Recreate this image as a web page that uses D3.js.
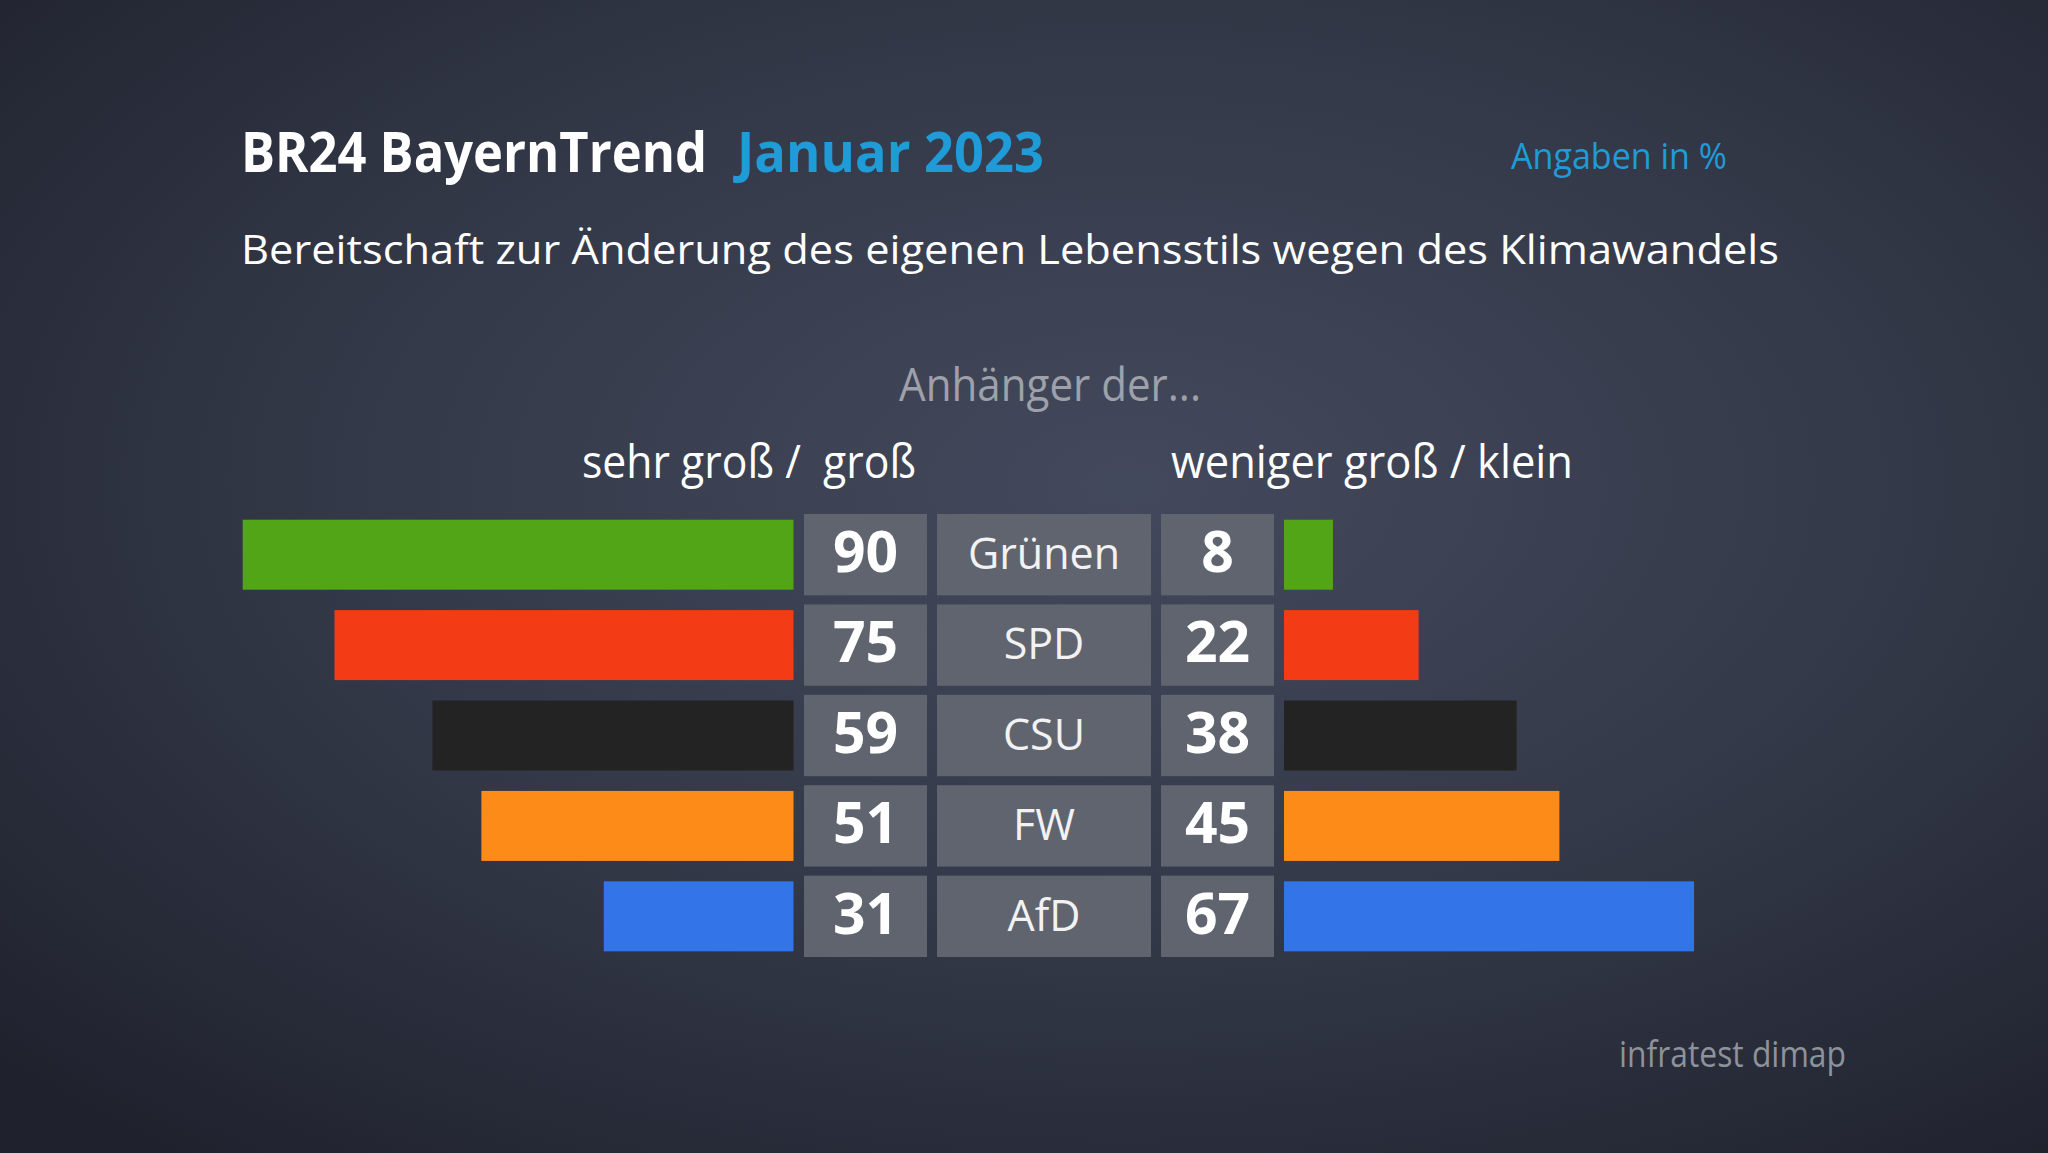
<!DOCTYPE html>
<html>
<head>
<meta charset="utf-8">
<script src="https://cdn.jsdelivr.net/npm/d3@7"></script>
<style>
  html, body { margin: 0; padding: 0; background: #262a37; }
  svg { display: block; }
  text { font-family: 'Open Sans', 'Noto Sans', sans-serif; white-space: pre; }
</style>
</head>
<body>
<svg id="chart"></svg>
<script>
const parties = ['Grünen', 'SPD', 'CSU', 'FW', 'AfD'];
const grossValues = [90, 75, 59, 51, 31];
const kleinValues = [8, 22, 38, 45, 67];
const partyColors = ['#52a516', '#f33c15', '#232323', '#fd8b17', '#3375e8'];
const headers = ['sehr groß /  groß', 'weniger groß / klein'];

const width = 2048, height = 1153;

const svg = d3.select('#chart')
    .attr('width', width)
    .attr('height', height);

// background glow
const defs = svg.append('defs');
const bg = defs.append('radialGradient')
    .attr('id', 'bg')
    .attr('cx', 0.55).attr('cy', 0.42).attr('r', 0.75);
bg.append('stop').attr('offset', 0).attr('stop-color', '#43495c');
bg.append('stop').attr('offset', 0.5).attr('stop-color', '#343949');
bg.append('stop').attr('offset', 1).attr('stop-color', '#1f222d');

svg.append('rect')
    .attr('width', width).attr('height', height)
    .attr('fill', 'url(#bg)');

// squeeze text to the width it has in the original (narrower face)
const fit = (sel, w) => sel.attr('textLength', w).attr('lengthAdjust', 'spacingAndGlyphs');

// header
svg.append('text')
    .attr('x', 241).attr('y', 172)
    .attr('font-size', 55).attr('font-weight', 700)
    .attr('fill', '#ffffff')
    .text('BR24 BayernTrend')
    .call(fit, 466);

svg.append('text')
    .attr('x', 737).attr('y', 172)
    .attr('font-size', 55).attr('font-weight', 700)
    .attr('fill', '#1f9bd7')
    .text('Januar 2023')
    .call(fit, 307);

svg.append('text')
    .attr('x', 1511).attr('y', 169)
    .attr('font-size', 36)
    .attr('fill', '#1f9bd7')
    .text('Angaben in %')
    .call(fit, 216);

svg.append('text')
    .attr('x', 241).attr('y', 264)
    .attr('font-size', 40)
    .attr('fill', '#ffffff')
    .text('Bereitschaft zur Änderung des eigenen Lebensstils wegen des Klimawandels')
    .call(fit, 1538);

svg.append('text')
    .attr('x', 899).attr('y', 401)
    .attr('font-size', 45)
    .attr('fill', '#9ea1a9')
    .text('Anhänger der...')
    .call(fit, 302);

svg.append('text')
    .attr('x', 582).attr('y', 478)
    .attr('font-size', 45)
    .attr('fill', '#ffffff')
    .text(headers[0])
    .call(fit, 334);

svg.append('text')
    .attr('x', 1171).attr('y', 478)
    .attr('font-size', 45)
    .attr('fill', '#ffffff')
    .text(headers[1])
    .call(fit, 402);

// scales
const xs = d3.scaleLinear().domain([0, 100]).range([0, 612]);
const ys = d3.scaleBand().domain(parties).range([514, 957]).paddingInner(0.1);

const leftEdge = 793.5;
const rightStart = 1284;
const boxes = [
    { x: 804, w: 123 },   // sehr groß / groß
    { x: 937, w: 214 },   // party
    { x: 1161, w: 113 }   // weniger groß / klein
];
const barInset = 5.7, barH = 70;

const rows = parties.map((p, i) => ({
    party: p, gross: grossValues[i], klein: kleinValues[i], color: partyColors[i]
}));

const g = svg.append('g');

g.selectAll('.bar-left')
    .data(rows).enter()
    .append('rect')
    .attr('class', 'bar-left')
    .attr('x', (d) => leftEdge - xs(d.gross))
    .attr('y', (d) => ys(d.party) + barInset)
    .attr('width', (d) => xs(d.gross))
    .attr('height', barH)
    .attr('fill', (d) => d.color);

g.selectAll('.bar-right')
    .data(rows).enter()
    .append('rect')
    .attr('class', 'bar-right')
    .attr('x', rightStart)
    .attr('y', (d) => ys(d.party) + barInset)
    .attr('width', (d) => xs(d.klein))
    .attr('height', barH)
    .attr('fill', (d) => d.color);

boxes.forEach((b) => {
    g.selectAll(null)
        .data(rows).enter()
        .append('rect')
        .attr('x', b.x)
        .attr('y', (d) => ys(d.party))
        .attr('width', b.w)
        .attr('height', ys.bandwidth())
        .attr('fill', '#60646f');
});

g.selectAll('.num-left')
    .data(rows).enter()
    .append('text')
    .attr('class', 'num-left')
    .attr('x', boxes[0].x + boxes[0].w / 2)
    .attr('y', (d) => ys(d.party) + 58)
    .attr('text-anchor', 'middle')
    .attr('font-size', 57).attr('font-weight', 700)
    .attr('fill', '#ffffff')
    .text((d) => d.gross);

g.selectAll('.num-right')
    .data(rows).enter()
    .append('text')
    .attr('class', 'num-right')
    .attr('x', boxes[2].x + boxes[2].w / 2)
    .attr('y', (d) => ys(d.party) + 58)
    .attr('text-anchor', 'middle')
    .attr('font-size', 57).attr('font-weight', 700)
    .attr('fill', '#ffffff')
    .text((d) => d.klein);

g.selectAll('.party')
    .data(rows).enter()
    .append('text')
    .attr('class', 'party')
    .attr('x', boxes[1].x + boxes[1].w / 2)
    .attr('y', (d) => ys(d.party) + 55)
    .attr('text-anchor', 'middle')
    .attr('font-size', 43)
    .attr('fill', '#f2f2f2')
    .text((d) => d.party);

// source
svg.append('text')
    .attr('x', 1619).attr('y', 1067)
    .attr('font-size', 36)
    .attr('fill', '#8e929b')
    .text('infratest dimap')
    .call(fit, 227);
</script>
</body>
</html>
